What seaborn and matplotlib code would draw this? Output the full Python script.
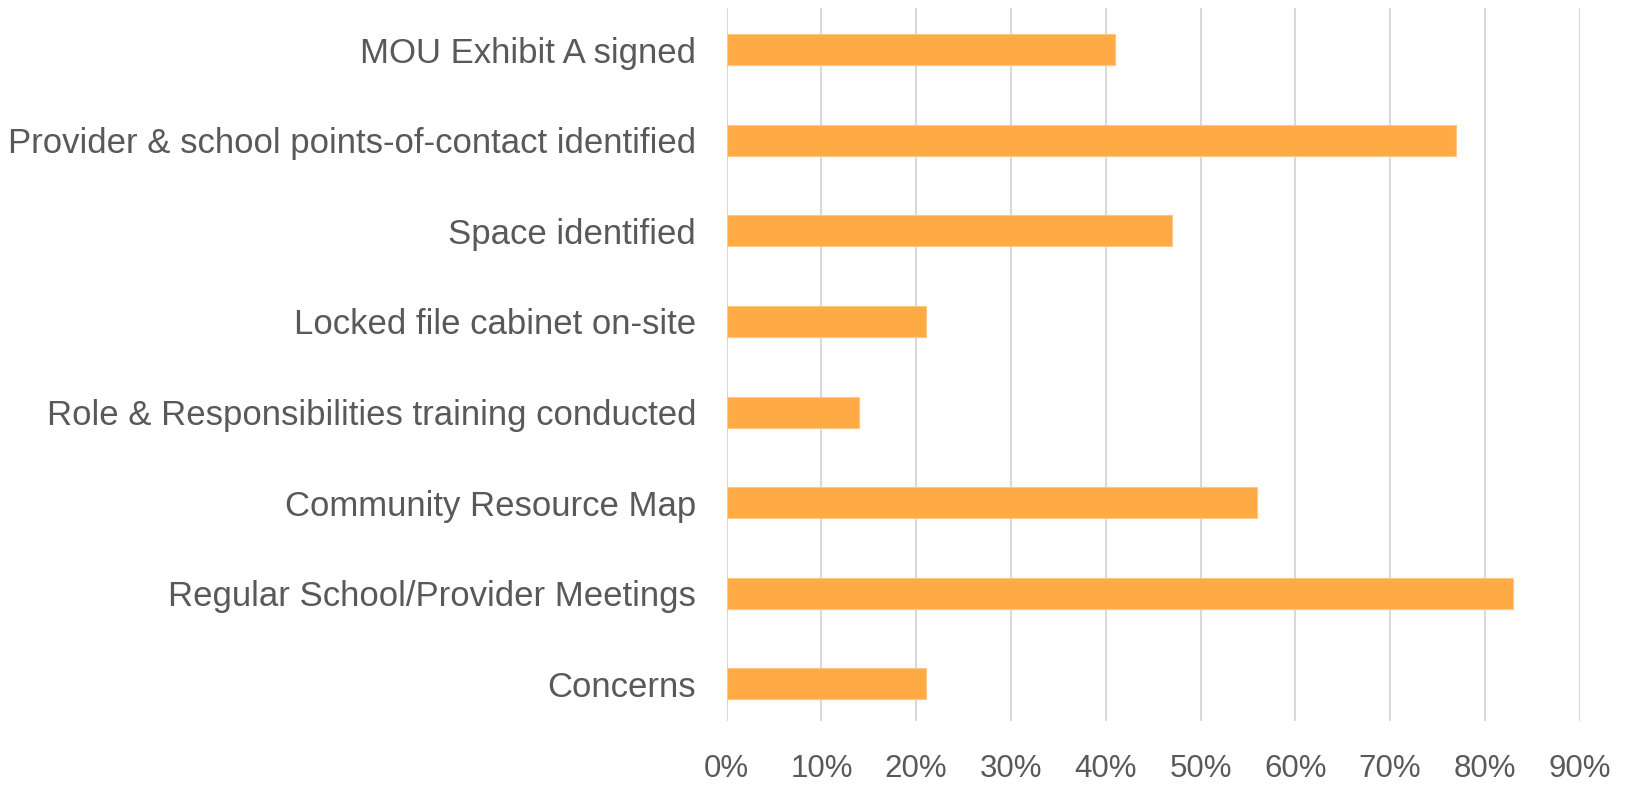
import matplotlib
matplotlib.use("Agg")
import matplotlib.pyplot as plt
import seaborn as sns
import pandas as pd
from matplotlib.ticker import FuncFormatter

categories = [
    "MOU Exhibit A signed",
    "Provider & school points-of-contact identified",
    "Space identified",
    "Locked file cabinet on-site",
    "Role & Responsibilities training conducted",
    "Community Resource Map",
    "Regular School/Provider Meetings",
    "Concerns",
]
values = [0.41, 0.77, 0.47, 0.21, 0.14, 0.56, 0.83, 0.21]
tick_values = [0.0, 0.1, 0.2, 0.3, 0.4, 0.5, 0.6, 0.7, 0.8, 0.9]

df = pd.DataFrame({"category": categories, "value": values})

sns.set_theme(style="white")
plt.rcParams["font.family"] = ["Liberation Sans", "DejaVu Sans"]

fig = plt.figure(figsize=(16.27, 7.87), dpi=100)
ax = fig.add_axes([0.4466, 0.0839, 0.5243, 0.9056])

sns.barplot(data=df, y="category", x="value", color="#FFAB45", width=0.343,
            saturation=1, edgecolor="#FFC684", linewidth=0.8, ax=ax, zorder=3)

ax.set_xlim(0, 0.9)
ax.set_xticks(tick_values)
ax.xaxis.set_major_formatter(FuncFormatter(lambda v, p: f"{round(v*100)}%"))
ax.grid(axis="x", color="#D9D9D9", linewidth=1.5, zorder=0)
ax.set_axisbelow(True)
for s in ax.spines.values():
    s.set_visible(False)
ax.set_xlabel("")
ax.set_ylabel("")
ax.tick_params(axis="x", colors="#595959", labelsize=22.5, length=0, pad=24)
ax.tick_params(axis="y", colors="#595959", labelsize=25, length=0, pad=22)
ax.set_ylim(7.41, -0.458)

fig.savefig("out.png", dpi=100, facecolor="white")
